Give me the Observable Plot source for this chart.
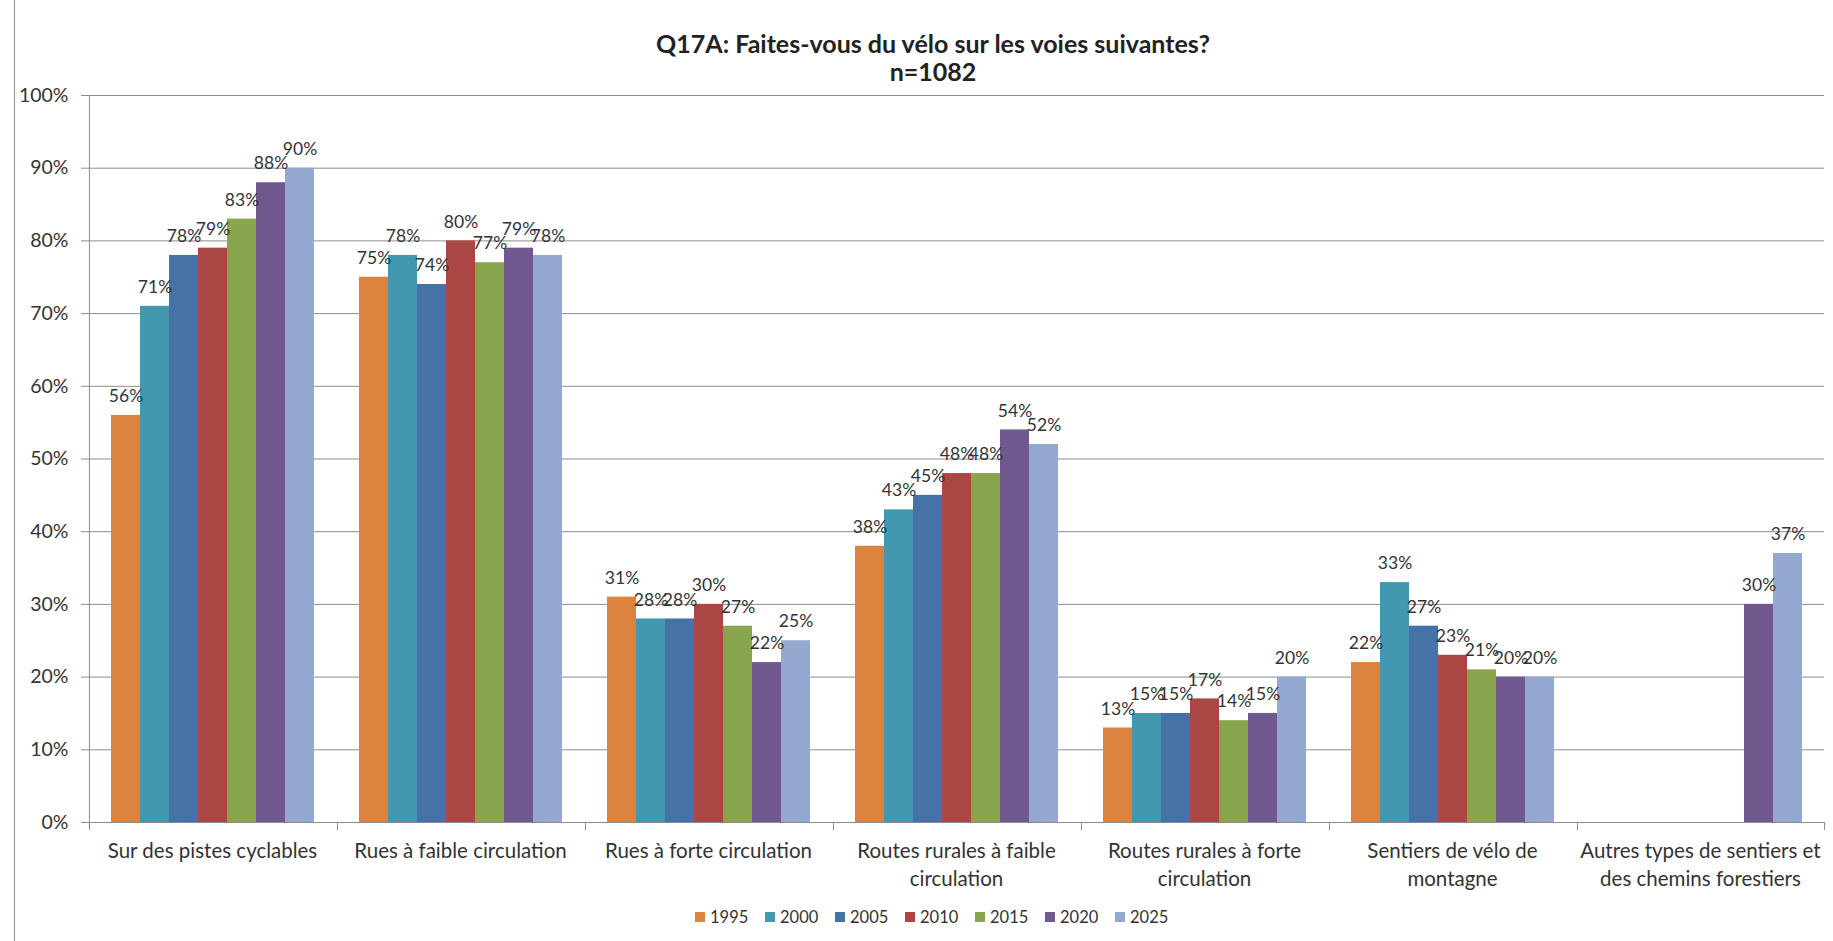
<!DOCTYPE html>
<html><head><meta charset="utf-8">
<script src="https://cdn.jsdelivr.net/npm/d3@7"></script>
<script src="https://cdn.jsdelivr.net/npm/@observablehq/plot@0.6"></script>
<style>
body{margin:0;background:#fff;font-family:Lato,sans-serif;color:#333}
#wrap{position:relative;width:1833px;height:941px;overflow:hidden;background:#fff}
#border{position:absolute;left:14px;top:0;bottom:0;border-left:1px solid #8a8a8a}
#title{position:absolute;top:29px;left:433px;width:1000px;text-align:center;font-weight:bold;font-size:25px;line-height:28px;color:#222}
#chart{position:absolute;left:0;top:80px}
#legend{position:absolute;left:695px;top:907px;display:flex;font-size:16.5px;line-height:20px;color:#333}
#legend .item{width:70px;display:flex;align-items:center}
#legend .sw{width:10px;height:10px;margin-right:5px}
</style></head>
<body>
<div id="wrap">
<div id="border"></div>
<div id="title">Q17A: Faites-vous du vélo sur les voies suivantes?<br>n=1082</div>
<div id="chart"></div>
<div id="legend"></div>
</div>
<script>
const categories = [
  "Sur des pistes cyclables",
  "Rues à faible circulation",
  "Rues à forte circulation",
  "Routes rurales à faible circulation",
  "Routes rurales à forte circulation",
  "Sentiers de vélo de montagne",
  "Autres types de sentiers et des chemins forestiers"
];
const categoryLabels = [
  "Sur des pistes cyclables",
  "Rues à faible circulation",
  "Rues à forte circulation",
  "Routes rurales à faible\ncirculation",
  "Routes rurales à forte\ncirculation",
  "Sentiers de vélo de\nmontagne",
  "Autres types de sentiers et\ndes chemins forestiers"
];
const years = ["1995", "2000", "2005", "2010", "2015", "2020", "2025"];
const v1995 = [56, 75, 31, 38, 13, 22, null];
const v2000 = [71, 78, 28, 43, 15, 33, null];
const v2005 = [78, 74, 28, 45, 15, 27, null];
const v2010 = [79, 80, 30, 48, 17, 23, null];
const v2015 = [83, 77, 27, 48, 14, 21, null];
const v2020 = [88, 79, 22, 54, 15, 20, 30];
const v2025 = [90, 78, 25, 52, 20, 20, 37];
const colors = ["#DB843D", "#4198AF", "#4572A7", "#AA4643", "#89A54E", "#71588F", "#93A9CF"];
const yTicks = [0, 10, 20, 30, 40, 50, 60, 70, 80, 90, 100];

const series = [v1995, v2000, v2005, v2010, v2015, v2020, v2025];
const rows = [];
series.forEach((vals, j) => vals.forEach((v, i) => {
  if (v != null) rows.push({category: categories[i], year: years[j], value: v});
}));

const W = 1833, mL = 88, mR = 9, mT = 15, mB = 80, H = 822;
const xPadOuter = 0.755;
const step = (W - mL - mR) / categories.length;
const bw = step / (years.length + 2 * xPadOuter);
const edgeDx = bw * (xPadOuter + 0.5);
const lineColor = "#8c8c8c";
const labelOf = d => categoryLabels[categories.indexOf(d)];

const plot = Plot.plot({
  width: W, height: H,
  marginLeft: mL, marginRight: mR, marginTop: mT, marginBottom: mB,
  style: {fontFamily: "Lato, sans-serif", color: "#333", background: "transparent", overflow: "visible"},
  fx: {domain: categories, padding: 0, axis: null},
  x: {domain: years, paddingInner: 0, paddingOuter: xPadOuter, axis: null},
  y: {domain: [0, 100], axis: null},
  color: {domain: years, range: colors},
  marks: [
    Plot.ruleY(yTicks, {stroke: lineColor, strokeWidth: 1}),
    Plot.barY(rows, {fx: "category", x: "year", y: "value", fill: "year"}),
    Plot.text(rows, {fx: "category", x: "year", y: "value", text: d => d.value + "%", dy: -19, fontSize: 17.5, fill: "#333"}),
    Plot.ruleX(categories, {fx: d => d, x: () => years[0], y1: 0, y2: -1.1, dx: -edgeDx, stroke: lineColor}),
    Plot.ruleX([categories[categories.length - 1]], {fx: d => d, x: () => years[years.length - 1], y1: 0, y2: -1.1, dx: edgeDx, stroke: lineColor}),
    Plot.ruleX([categories[0]], {fx: d => d, x: () => years[0], y1: -0.8, y2: 100, dx: -edgeDx, stroke: lineColor}),
    Plot.axisY({ticks: yTicks, tickFormat: d => d + "%", tickSize: 7, tickPadding: 13, fontSize: 19.5, stroke: lineColor, fill: "#333", label: null}),
    Plot.text(categories, {fx: d => d, text: labelOf, frameAnchor: "bottom", lineAnchor: "top", dy: 16, fontSize: 20.5, lineHeight: 1.35, fill: "#333"})
  ]
});
document.getElementById("chart").append(plot);

const legend = document.getElementById("legend");
years.forEach((y, i) => {
  const item = document.createElement("div");
  item.className = "item";
  const sw = document.createElement("span");
  sw.className = "sw";
  sw.style.background = colors[i];
  const t = document.createElement("span");
  t.textContent = y;
  item.append(sw, t);
  legend.append(item);
});
</script>
</body></html>
